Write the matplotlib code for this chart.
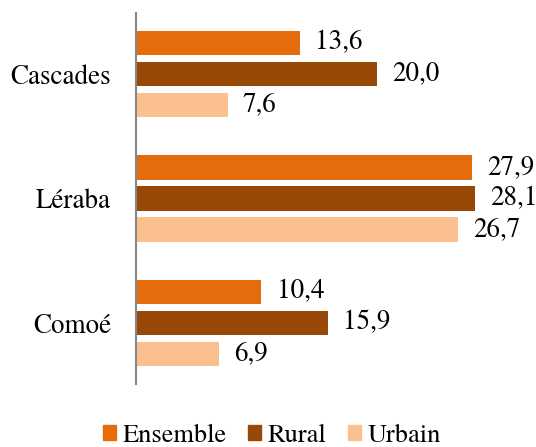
import matplotlib
matplotlib.use("Agg")
import matplotlib.pyplot as plt
from matplotlib.patches import Patch
import numpy as np

plt.rcParams['font.family'] = ['TeX Gyre Termes', 'DejaVu Sans']

categories = ["Cascades", "Léraba", "Comoé"]
series_names = ["Ensemble", "Rural", "Urbain"]
ensemble = [13.6, 27.9, 10.4]
rural = [20.0, 28.1, 15.9]
urbain = [7.6, 26.7, 6.9]
colors = ["#E46C0A", "#984807", "#FAC090"]

FS = 19.5

fig = plt.figure(figsize=(5.36, 4.47), dpi=100)
ax = fig.add_axes([136/536, 1-384/447, 1-136/536, (384-13)/447])

y = np.arange(len(categories))
step = 0.249
height = 0.195
for i, (vals, col, name) in enumerate(zip([ensemble, rural, urbain], colors, series_names)):
    pos = y + (i - 1) * step
    ax.barh(pos, vals, height=height, color=col, label=name)
    for p, v in zip(pos, vals):
        ax.annotate(f"{v:.1f}".replace(".", ","), (v, p), xytext=(11, 0),
                    textcoords="offset points", va="center", ha="left", fontsize=FS)

ax.set_ylim(2.49, -0.49)
ax.set_xlim(0, 33.2)
ax.set_yticks(y)
ax.set_yticklabels(categories, fontsize=FS)
ax.tick_params(axis='y', length=0, pad=18)
ax.set_xticks([])
for s in ["top", "right", "bottom"]:
    ax.spines[s].set_visible(False)
ax.spines["left"].set_color("#868686")
ax.spines["left"].set_linewidth(1.5)

handles = [Patch(color=c, label=n) for c, n in zip(colors, series_names)]
fig.legend(handles=handles, loc="center", bbox_to_anchor=(272/536, 1-436/447), ncol=3,
           frameon=False, fontsize=19, handlelength=0.5, handleheight=0.5,
           handletextpad=0.25, columnspacing=0.8, borderpad=0)

fig.savefig("out.png", dpi=100)
